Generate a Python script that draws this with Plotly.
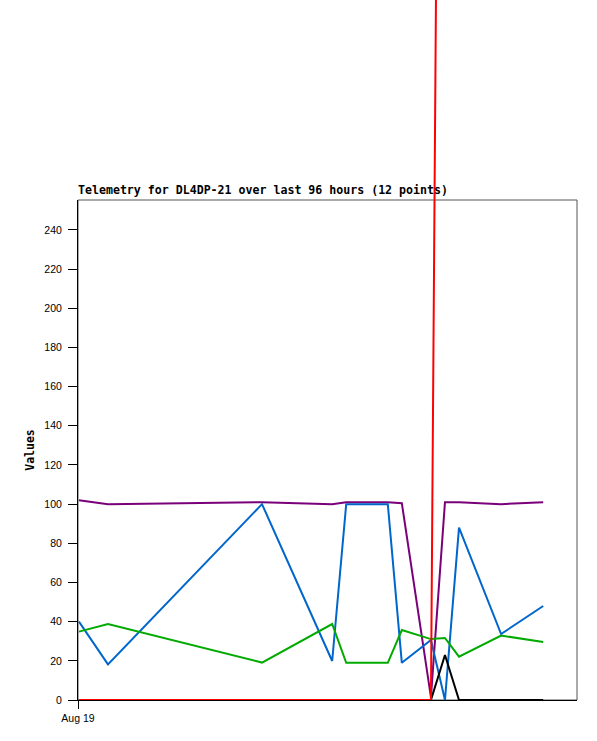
import plotly.graph_objects as go

times = [
    "2023-08-19 00:11", "2023-08-19 05:46", "2023-08-20 11:24", "2023-08-21 00:54",
    "2023-08-21 03:36", "2023-08-21 11:36", "2023-08-21 14:18", "2023-08-21 19:54",
    "2023-08-21 22:36", "2023-08-22 01:18", "2023-08-22 09:24", "2023-08-22 17:30",
]
purple_vals = [102, 100, 101, 100, 101, 101, 100.5, 1.5, 101, 101, 100, 101]
blue_vals = [40, 18.2, 100, 19.9, 100, 100, 19, 30.6, 0, 88, 33.7, 48]
green_vals = [34.9, 38.8, 19.1, 38.8, 19, 19, 35.7, 31.1, 31.7, 22.1, 32.9, 29.6]
red_vals = [0, 0, 0, 0, 0, 0, 0, 0, 1000, 1000, 1000, 1000]
black_vals = [0, 0, 0, 0, 0, 0, 0, 0, 23, 0, 0, 0]

y_ticks = [0, 20, 40, 60, 80, 100, 120, 140, 160, 180, 200, 220, 240]
x_tick_vals = ["2023-08-19 00:00"]
x_tick_text = ["Aug 19"]
title_text = "Telemetry for DL4DP-21 over last 96 hours (12 points)"

W, H = 597, 741
ML, MR, MT, MB = 78, 20, 0, 41
plot_h = H - MT - MB  # 700
top_px = 200
ymax = 255.3
px_per_unit = (plot_h - top_px) / ymax
dom_top = (plot_h - top_px) / plot_h

fig = go.Figure()
lw = 2
fig.add_trace(go.Scatter(x=times, y=purple_vals, mode="lines", line=dict(color="#7a007a", width=lw)))
fig.add_trace(go.Scatter(x=times, y=blue_vals, mode="lines", line=dict(color="#0066cc", width=lw)))
fig.add_trace(go.Scatter(x=times, y=green_vals, mode="lines", line=dict(color="#00aa00", width=lw)))
fig.add_trace(go.Scatter(x=times, y=red_vals, mode="lines", line=dict(color="#ff0000", width=lw),
                         xaxis="x", yaxis="y2"))
fig.add_trace(go.Scatter(x=times, y=black_vals, mode="lines", line=dict(color="#000000", width=lw)))

fig.update_layout(
    width=W, height=H,
    margin=dict(l=ML, r=MR, t=MT, b=MB),
    paper_bgcolor="white", plot_bgcolor="rgba(0,0,0,0)",
    showlegend=False,
    xaxis=dict(
        type="date", range=["2023-08-19 00:00", "2023-08-23 00:00"],
        tickvals=x_tick_vals, ticktext=x_tick_text,
        ticks="outside", ticklen=8, tickcolor="black", tickwidth=1,
        showline=True, linecolor="black", linewidth=1,
        showgrid=False, zeroline=False,
        tickfont=dict(family="Liberation Sans, Arial, sans-serif", size=10.5, color="black"),
        anchor="y",
    ),
    yaxis=dict(
        domain=[0, dom_top], range=[0, ymax],
        tickvals=y_ticks, ticks="outside", ticklen=9, tickcolor="black", tickwidth=1,
        ticklabelstandoff=4,
        showline=True, linecolor="black", linewidth=1,
        showgrid=False, zeroline=False,
        tickfont=dict(family="Liberation Sans, Arial, sans-serif", size=10.5, color="black"),
        title=dict(text="<b>Values</b>", standoff=7,
                   font=dict(family="DejaVu Sans Mono, monospace", size=11.5, color="black")),
    ),
    yaxis2=dict(
        domain=[0, 1], range=[0, plot_h / px_per_unit], visible=False,
        anchor="x", showgrid=False, zeroline=False,
    ),
    shapes=[dict(type="rect", xref="x domain", yref="y domain", x0=0, x1=1, y0=0, y1=1,
                 line=dict(color="#555555", width=1), layer="below")],
    annotations=[dict(
        text="<b>" + title_text + "</b>", xref="paper", yref="paper",
        x=-1 / (W - ML - MR), y=(plot_h - 198) / plot_h, xanchor="left", yanchor="bottom",
        showarrow=False, borderpad=0,
        font=dict(family="DejaVu Sans Mono, monospace", size=11.6, color="black"),
    )],
)

fig.write_html("out.html", config={"displayModeBar": False},
               post_script="document.body.style.margin='0px';")
